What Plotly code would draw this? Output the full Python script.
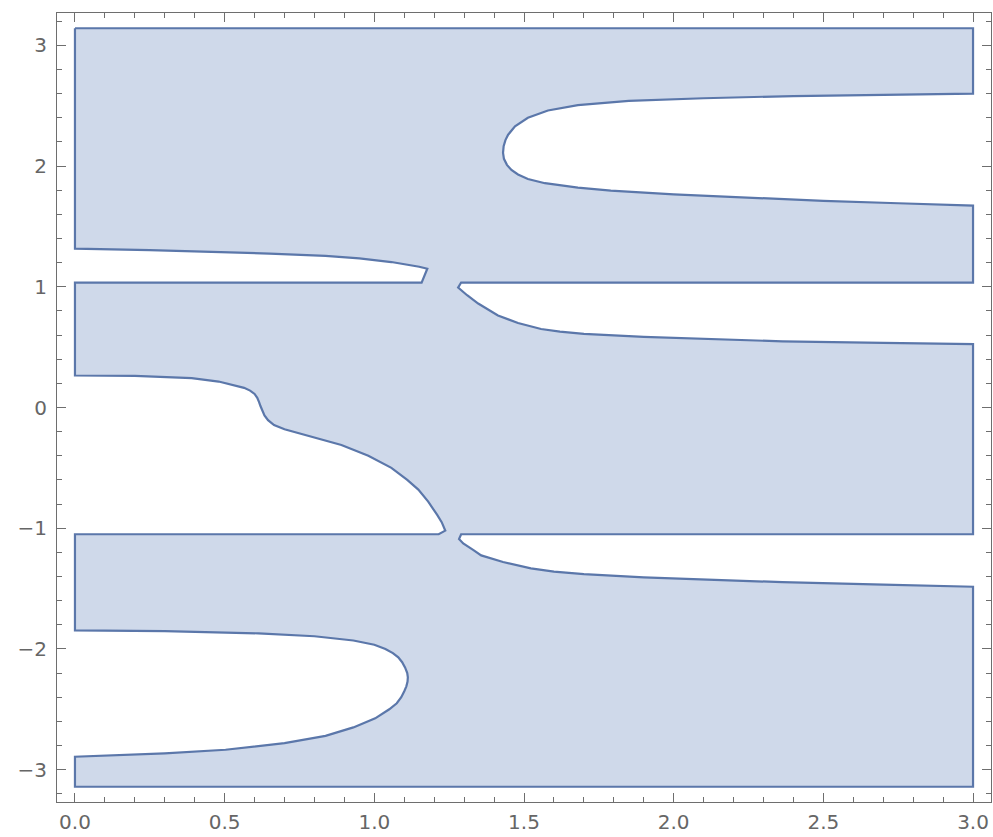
import plotly.graph_objects as go

# Region bounds
X_LEFT, X_RIGHT = 0.0, 3.0
Y_BOTTOM, Y_TOP = -3.14159, 3.14159

# Hole A (right edge, upper, tip pointing left) traversed top -> bottom
holeA_x = [3.0, 2.7, 2.4, 2.1, 1.85, 1.68, 1.58, 1.513, 1.47, 1.447, 1.438, 1.432, 1.43,
           1.433, 1.443, 1.458, 1.48, 1.513, 1.57, 1.68, 1.79, 2.0, 2.237, 2.5, 2.75, 3.0]
holeA_y = [2.600, 2.592, 2.580, 2.562, 2.540, 2.505, 2.460, 2.400, 2.330, 2.260, 2.215, 2.165, 2.110,
           2.060, 2.010, 1.968, 1.930, 1.893, 1.858, 1.822, 1.796, 1.765, 1.738, 1.712, 1.692, 1.672]

# Hole C (right edge, middle)
holeC_x = [3.0, 1.29, 1.28, 1.31, 1.347, 1.413, 1.48, 1.52, 1.557, 1.62, 1.7, 1.9, 2.15, 2.363, 2.7, 3.0]
holeC_y = [1.035, 1.035, 0.993, 0.93, 0.861, 0.762, 0.70, 0.672, 0.650, 0.628, 0.61, 0.585, 0.565, 0.548, 0.535, 0.525]

# Hole E (right edge, lower)
holeE_x = [3.0, 1.29, 1.283, 1.297, 1.33, 1.357, 1.43, 1.523, 1.6, 1.7, 1.9, 2.15, 2.363, 2.7, 3.0]
holeE_y = [-1.05, -1.05, -1.09, -1.126, -1.18, -1.225, -1.28, -1.333, -1.36, -1.38, -1.407, -1.43, -1.447, -1.468, -1.485]

# Hole F (left edge, bottom) traversed bottom -> top
holeF_x = [0.0, 0.17, 0.3, 0.503, 0.7, 0.837, 0.93, 1.003, 1.05, 1.075, 1.09, 1.1, 1.107, 1.111, 1.112,
           1.11, 1.103, 1.093, 1.08, 1.062, 1.037, 1.0, 0.93, 0.8, 0.613, 0.3, 0.0]
holeF_y = [-2.893, -2.878, -2.865, -2.835, -2.78, -2.72, -2.65, -2.575, -2.50, -2.45, -2.40, -2.35, -2.31, -2.27, -2.235,
           -2.20, -2.155, -2.11, -2.07, -2.035, -2.0, -1.965, -1.93, -1.895, -1.871, -1.852, -1.846]

# Hole D (left edge, middle) traversed bottom -> top
holeD_x = [0.0, 1.215, 1.237, 1.225, 1.21, 1.18, 1.147, 1.11, 1.057, 0.98, 0.89, 0.80, 0.74, 0.70,
           0.665, 0.645, 0.633, 0.626, 0.62, 0.615, 0.609, 0.6, 0.585, 0.565, 0.537, 0.48, 0.39, 0.2, 0.0]
holeD_y = [-1.05, -1.05, -1.02, -0.95, -0.89, -0.78, -0.68, -0.60, -0.50, -0.40, -0.31, -0.25, -0.21, -0.18,
           -0.145, -0.105, -0.065, -0.03, 0.01, 0.045, 0.08, 0.112, 0.14, 0.163, 0.182, 0.215, 0.243, 0.262, 0.265]

# Hole B (left edge, upper) traversed bottom -> top
holeB_x = [0.0, 1.158, 1.177, 1.15, 1.12, 1.057, 0.95, 0.837, 0.65, 0.503, 0.25, 0.0]
holeB_y = [1.035, 1.035, 1.15, 1.166, 1.18, 1.205, 1.235, 1.256, 1.275, 1.287, 1.303, 1.316]

x_ticks = [0.0, 0.5, 1.0, 1.5, 2.0, 2.5, 3.0]
y_ticks = [-3, -2, -1, 0, 1, 2, 3]

# Build one closed boundary (clockwise)
px = [X_LEFT, X_RIGHT] + holeA_x + holeC_x + holeE_x + [X_RIGHT, X_LEFT] + holeF_x + holeD_x + holeB_x + [X_LEFT]
py = [Y_TOP, Y_TOP] + holeA_y + holeC_y + holeE_y + [Y_BOTTOM, Y_BOTTOM] + holeF_y + holeD_y + holeB_y + [Y_TOP]

FILL = "#cfd9ea"
EDGE = "#5b77aa"
AXIS = "#6e6e6e"

fig = go.Figure()
fig.add_trace(go.Scatter(x=px, y=py, mode="lines", fill="toself", fillcolor=FILL,
                         line=dict(color=EDGE, width=2.2), hoverinfo="skip", showlegend=False))

tickfont = dict(family="DejaVu Sans", size=20, color="#666666")
fig.update_layout(
    width=993, height=837,
    margin=dict(l=57, r=2, t=13, b=35),
    paper_bgcolor="white", plot_bgcolor="white",
    showlegend=False,
    xaxis=dict(range=[-0.06, 3.06], tickvals=x_ticks, tickformat=".1f", ticks="inside", ticklen=9,
               tickcolor=AXIS, tickwidth=1, showline=True, linecolor=AXIS, linewidth=1, mirror="allticks",
               showgrid=False, zeroline=False, tickfont=tickfont, ticklabelstandoff=2,
               minor=dict(ticks="inside", ticklen=5, dtick=0.1, tick0=0, tickcolor=AXIS, showgrid=False)),
    yaxis=dict(range=[-3.268, 3.268], tickvals=y_ticks, ticks="inside", ticklen=9,
               tickcolor=AXIS, tickwidth=1, showline=True, linecolor=AXIS, linewidth=1, mirror="allticks",
               showgrid=False, zeroline=False, tickfont=tickfont, ticklabelstandoff=5,
               minor=dict(ticks="inside", ticklen=5, dtick=0.2, tick0=0, tickcolor=AXIS, showgrid=False)),
)

fig.write_html("out.html")
